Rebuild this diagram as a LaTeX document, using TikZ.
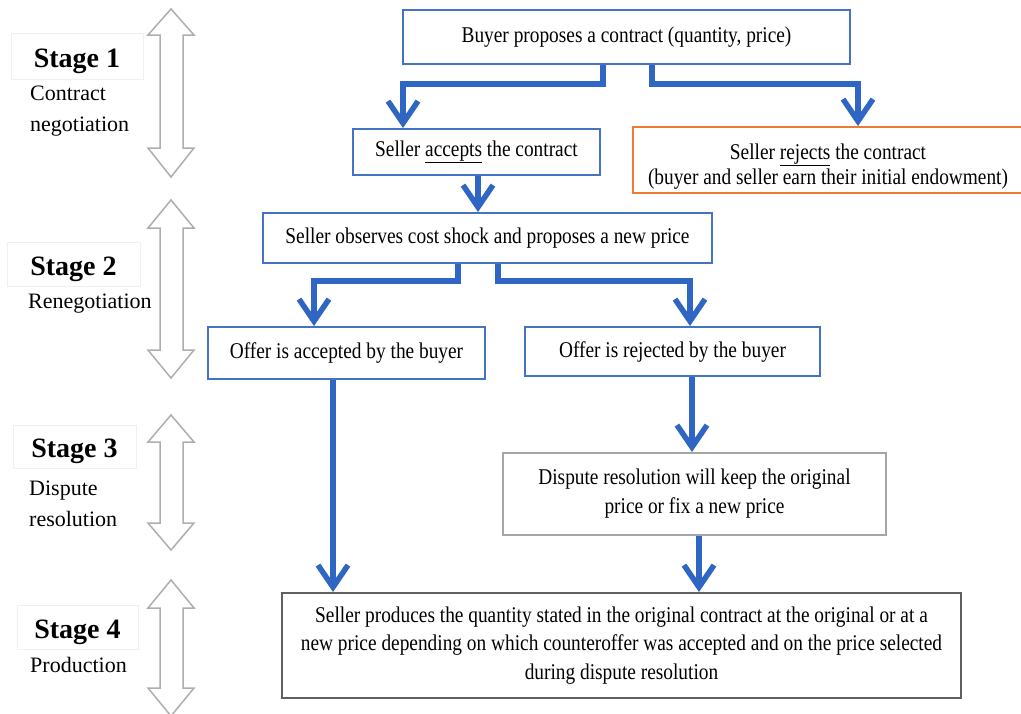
\documentclass[tikz,border=0pt]{standalone}
\usepackage{fontspec}
\setmainfont{Liberation Serif}
\newfontfamily\boxfont{Liberation Serif}[FakeStretch=0.86]
\usetikzlibrary{arrows.meta}
\definecolor{boxblue}{HTML}{4472C4}
\definecolor{arrblue}{HTML}{2F65C3}
\definecolor{boxorange}{HTML}{ED7D31}
\definecolor{boxgray}{HTML}{A5A5A5}
\definecolor{boxdark}{HTML}{606060}
\definecolor{dblgray}{HTML}{AEAEAE}
\definecolor{faint}{HTML}{F0F0F0}
\newcommand{\dblarr}[4]{\draw[dbl] (171,#1) -- (194,#2) -- (183,#2) -- (183,#3) -- (194,#3) -- (171,#4) -- (148,#3) -- (160,#3) -- (160,#2) -- (148,#2) -- cycle;}
\begin{document}
\begin{tikzpicture}[x=1pt,y=-1pt,
  box/.style={draw=boxblue, line width=2pt, fill=white, inner sep=0pt, align=center,
    font=\boxfont\fontsize{22.5}{29}\selectfont},
  conn/.style={draw=arrblue, line width=5.5pt, -{Straight Barb[length=22pt,width=30pt]}},
  stagebox/.style={draw=faint, line width=0.8pt, inner sep=0pt, text height=28pt, text depth=6pt,
    font=\bfseries\fontsize{28}{32}\selectfont},
  sub/.style={anchor=base west, inner sep=0pt, font=\fontsize{22}{26}\selectfont},
  dbl/.style={draw=dblgray, line width=1.5pt, fill=white, line join=miter}
]
\useasboundingbox (0,0) rectangle (1021,713);
\fill[white] (0,0) rectangle (1021,713);

% stage labels
\node[stagebox, minimum width=132pt, minimum height=46pt] (s1) at (77,56) {Stage 1};
\node[stagebox, minimum width=133pt, minimum height=44pt] (s2) at (73.5,264) {Stage 2};
\node[stagebox, minimum width=123pt, minimum height=43pt] (s3) at (74.5,446.5) {Stage 3};
\node[stagebox, minimum width=121pt, minimum height=44pt] (s4) at (77.5,627) {Stage 4};
\node[sub] (s1a) at (30,100) {Contract};
\node[sub] (s1b) at (30,131) {negotiation};
\node[sub] (s2a) at (28,308) {Renegotiation};
\node[sub] (s3a) at (29,495) {Dispute};
\node[sub] (s3b) at (29,526) {resolution};
\node[sub] (s4a) at (30,672) {Production};

% double arrows
\dblarr{9}{35}{148}{177}
\dblarr{200}{228}{350}{378}
\dblarr{415}{442}{523}{550}
\dblarr{580}{608}{688}{716}

% boxes
\node[box, minimum width=447pt, minimum height=54pt] (buyer) at (626.5,37) {Buyer proposes a contract (quantity, price)};
\node[box, minimum width=247pt, minimum height=46pt] (accept) at (476.5,152) {Seller \underline{accepts} the contract};
\node[box, draw=boxorange, minimum width=390pt, minimum height=66pt,
  font=\boxfont\fontsize{22.5}{25}\selectfont] (reject) at (828,160)
  {\rule{0pt}{28pt}Seller \underline{rejects} the contract\\(buyer and seller earn their initial endowment)};
\node[box, minimum width=449pt, minimum height=50pt] (observe) at (487.5,238) {Seller observes cost shock and proposes a new price};
\node[box, minimum width=277pt, minimum height=52pt] (offA) at (346.5,353) {Offer is accepted by the buyer};
\node[box, minimum width=295pt, minimum height=49pt] (offR) at (672.5,351.5) {Offer is rejected by the buyer};
\node[box, draw=boxgray, minimum width=383pt, minimum height=82pt] (dispute) at (694.5,494)
  {Dispute resolution will keep the original\\price or fix a new price};
\node[box, draw=boxdark, minimum width=679pt, minimum height=105pt,
  font=\boxfont\fontsize{22.5}{28.5}\selectfont] (prod) at (621.5,645.5)
  {Seller produces the quantity stated in the original contract at the original or at a\\
   new price depending on which counteroffer was accepted and on the price selected\\
   during dispute resolution};

% connectors
\draw[conn] ([xshift=-23.5pt]buyer.south) -- ++(0,19) -| ([xshift=-73.5pt]accept.north);
\draw[conn] ([xshift=25.5pt]buyer.south) -- ++(0,19) -| ([xshift=30pt]reject.north);
\draw[conn] ([xshift=1.5pt]accept.south) -- ([xshift=1.5pt]accept.south |- observe.north);
\draw[conn] ([xshift=-29.5pt]observe.south) -- ++(0,17) -| ([xshift=-32.5pt]offA.north);
\draw[conn] ([xshift=10.5pt]observe.south) -- ++(0,17) -| ([xshift=17.5pt]offR.north);
\draw[conn] ([xshift=-13.5pt]offA.south) -- ([xshift=-13.5pt]offA.south |- prod.north);
\draw[conn] ([xshift=19.5pt]offR.south) -- ([xshift=19.5pt]offR.south |- dispute.north);
\draw[conn] ([xshift=4.5pt]dispute.south) -- ([xshift=4.5pt]dispute.south |- prod.north);
\end{tikzpicture}
\end{document}
